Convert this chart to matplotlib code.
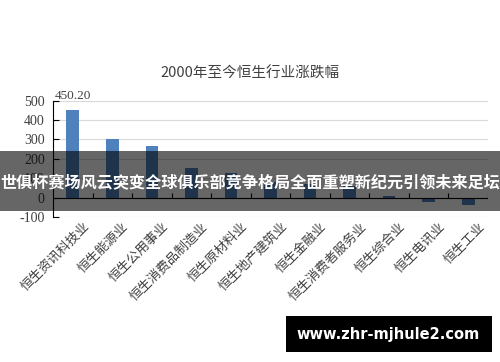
import numpy as np
import matplotlib
matplotlib.use('Agg')
import matplotlib.pyplot as plt
import matplotlib.transforms as mtransforms
from matplotlib.patches import Rectangle

plt.rcParams['font.family'] = ['Noto Sans CJK SC', 'DejaVu Sans']

# 行业与涨跌幅（%）
industries = ['恒生资讯科技业', '恒生能源业', '恒生公用事业', '恒生消费品制造业',
              '恒生原材料业', '恒生地产建筑业', '恒生金融业', '恒生消费者服务业',
              '恒生综合业', '恒生电讯业', '恒生工业']
changes = [450.20, 300, 268, 155, 125, 80, 72, 62, 8, -23, -37]
y_ticks = [-100, 0, 100, 200, 300, 400, 500]

title = '2000年至今恒生行业涨跌幅'
banner = '世俱杯赛场风云突变全球俱乐部竞争格局全面重塑新纪元引领未来足坛'
site = 'www.zhr-mjhule2.com'

fig = plt.figure(figsize=(5.0, 3.62), dpi=100)
ax = fig.add_axes([0.106, 0.40, 0.870, 0.322])

x = np.arange(len(industries))
ax.bar(x, changes, width=0.32, color='#4F81BD', zorder=3)
ax.annotate(f'{changes[0]:.2f}', (x[0], changes[0]), xytext=(0, 6),
            textcoords='offset points', ha='center', va='bottom',
            fontsize=9.5, family='Liberation Serif', color='#404040')

ax.set_xlim(-0.5, len(industries) - 0.5)
ax.set_ylim(y_ticks[0], y_ticks[-1])
ax.set_yticks(y_ticks)
ax.set_yticklabels([str(v) for v in y_ticks], family='Liberation Serif',
                   fontsize=10, color='#404040')
ax.tick_params(axis='y', direction='in', length=4, width=0.8, pad=6)
ax.yaxis.grid(True, color='#D9D9D9', linewidth=0.8, zorder=0)

ax.set_xticks(x)
ax.set_xticklabels(industries, rotation=45, ha='right', rotation_mode='anchor',
                   fontsize=9.4, color='#404040')
ax.tick_params(axis='x', length=0, pad=2)
offset = mtransforms.ScaledTranslation(10 / 100, 0, fig.dpi_scale_trans)
for lab in ax.get_xticklabels():
    lab.set_transform(lab.get_transform() + offset)

for s in ['top', 'right', 'bottom']:
    ax.spines[s].set_visible(False)
ax.spines['left'].set_color('black')
ax.spines['left'].set_linewidth(0.8)

# 零轴与分类刻度
ax.axhline(0, color='black', linewidth=0.8, zorder=4)
bounds = np.arange(len(industries) + 1) - 0.5
ax.vlines(bounds[1:], 0, 25, color='black', linewidth=0.8, zorder=4)

fig.text(0.5, 0.798, title, ha='center', va='center', fontsize=10.5,
         color='#404040')

# 横幅
fig.patches.append(Rectangle((0, 151 / 362), 1, 60 / 362, transform=fig.transFigure,
                             facecolor='black', alpha=0.6, zorder=5))
fig.text(0.5, 1 - 182 / 362, banner, ha='center', va='center', fontsize=11.6,
         color='white', fontweight='bold', zorder=6)

# 网址框
fig.patches.append(Rectangle((286 / 500, 1 - 352 / 362), 206 / 500, 36 / 362,
                             transform=fig.transFigure, facecolor='black', zorder=5))
fig.text(388 / 500, 1 - 334 / 362, site, ha='center', va='center', fontsize=10.5,
         color='white', fontweight='bold', family='DejaVu Sans', zorder=6)

fig.savefig('out.png', dpi=100)
